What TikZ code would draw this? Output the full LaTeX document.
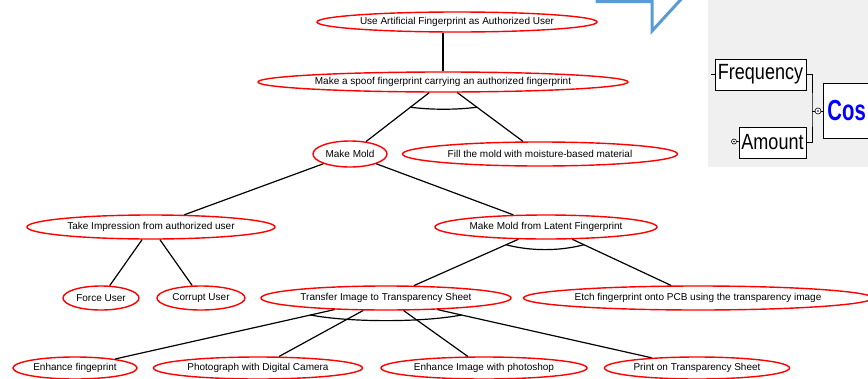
\documentclass[tikz,border=0pt]{standalone}
\usepackage{fontspec}
\setmainfont{Liberation Sans}
\newfontfamily\narrowfont[FakeStretch=0.82]{Liberation Sans}
\newfontfamily\narrowerfont[FakeStretch=0.70]{Liberation Sans}
\usetikzlibrary{shapes.geometric,calc}
\definecolor{bubbleblue}{RGB}{91,155,213}

\begin{document}
\begin{tikzpicture}[-,x=1pt,y=-1pt,line width=1.2pt,
  goal node/.style={ellipse,draw=red,fill=white,line width=1.4pt,inner sep=0pt,font=\fontsize{10}{12}\selectfont},
  attr node/.style={draw,fill=white,line width=0.9pt,inner xsep=1.5pt,inner ysep=0pt,minimum height=31,font=\narrowfont\fontsize{22}{24}\selectfont},
  port node/.style={circle,draw,fill=white,line width=0.6pt,minimum size=6,inner sep=0pt}]

  \useasboundingbox (0,0) rectangle (868,378);
  \clip (0,0) rectangle (868,378);

  % panel and bubble on the right
  \fill[gray!12] (708,0) rectangle (868,167);
  \draw[bubbleblue,line width=3pt] (597,-10) -- (597,1.5) -- (652,1.5) -- (652,31) -- (685,-5);

  \node[goal node,minimum width=280,minimum height=20] (root) at (457,22) {Use Artificial Fingerprint as Authorized User};
  \node[goal node,minimum width=370,minimum height=20] (spoof) at (443,82) {Make a spoof fingerprint carrying an authorized fingerprint};
  \node[goal node,minimum width=74,minimum height=26] (mold) at (350,154) {Make Mold};
  \node[goal node,minimum width=275,minimum height=24] (fill) at (540,154) {Fill the mold with moisture-based material};
  \node[goal node,minimum width=248,minimum height=24] (imp) at (151,227) {Take Impression from authorized user};
  \node[goal node,minimum width=222,minimum height=24] (latent) at (546,227) {Make Mold from Latent Fingerprint};
  \node[goal node,minimum width=76,minimum height=24] (force) at (101,298) {Force User};
  \node[goal node,minimum width=88,minimum height=24] (corrupt) at (201,298) {Corrupt User};
  \node[goal node,minimum width=250,minimum height=24] (transfer) at (386,298) {Transfer Image to Transparency Sheet};
  \node[goal node,minimum width=342,minimum height=24] (etch) at (698,298) {Etch fingerprint onto PCB using the transparency image};
  \node[goal node,minimum width=124,minimum height=22] (enh) at (75,368) {Enhance fingeprint};
  \node[goal node,minimum width=209,minimum height=22] (photo) at (258,368) {Photograph with Digital Camera};
  \node[goal node,minimum width=206,minimum height=22] (shop) at (484,368) {Enhance Image with photoshop};
  \node[goal node,minimum width=185,minimum height=22] (print) at (697,368) {Print on Transparency Sheet};

  \path
    (spoof.north) edge (spoof.north |- root.south)
    (spoof) edge (mold)
    (spoof) edge (fill)
    (mold) edge (imp)
    (mold) edge (latent)
    (imp) edge (force)
    (imp) edge (corrupt)
    (latent) edge (transfer)
    (latent) edge (etch)
    (transfer) edge (enh)
    (transfer) edge (photo)
    (transfer) edge (shop)
    (transfer) edge (print) ;

  % and-arcs
  \coordinate (and1a) at ($(spoof)!0.35!(mold)$);
  \coordinate (and1b) at ($(spoof)!0.35!(fill)$);
  \coordinate (and2a) at ($(latent)!0.25!(transfer)$);
  \coordinate (and2b) at ($(latent)!0.25!(etch)$);
  \coordinate (and3a) at ($(transfer)!0.243!(enh)$);
  \coordinate (and3b) at ($(transfer)!0.243!(print)$);
  \draw (and1a) .. controls +(20,2.7) and +(-20,2.7) .. (and1b);
  \draw (and2a) .. controls +(25,6.5) and +(-25,6.5) .. (and2b);
  \draw (and3a) .. controls +(40,7.5) and +(-40,7.5) .. (and3b);

  \node[attr node,minimum width=91] (freq) at (760.5,74.5) {Frequency};
  \node[attr node,minimum width=67] (amt) at (772.5,142.5) {Amount};
  \node[draw,fill=white,line width=0.9pt,anchor=west,minimum height=55,inner xsep=4pt,text=blue,font=\narrowerfont\bfseries\fontsize{29}{31}\selectfont] (cost) at (823,111) {Cos};
  \node[port node] (costport) at (818,111) {};
  \node[port node,minimum size=5] (amtport) at (734,141.5) {};
  \coordinate (join) at (812,111);
  \coordinate (freqtip) at (711,74.5);

  \draw[line width=0.8pt] (freq.east) -| (join) |- (amt.east);
  \path[line width=0.8pt]
    (join) edge (costport)
    (costport) edge (cost)
    (freqtip) edge (freq)
    (amtport) edge (amt) ;
  \fill (costport) circle (0.8);
  \fill (amtport) circle (0.8);

\end{tikzpicture}
\end{document}
